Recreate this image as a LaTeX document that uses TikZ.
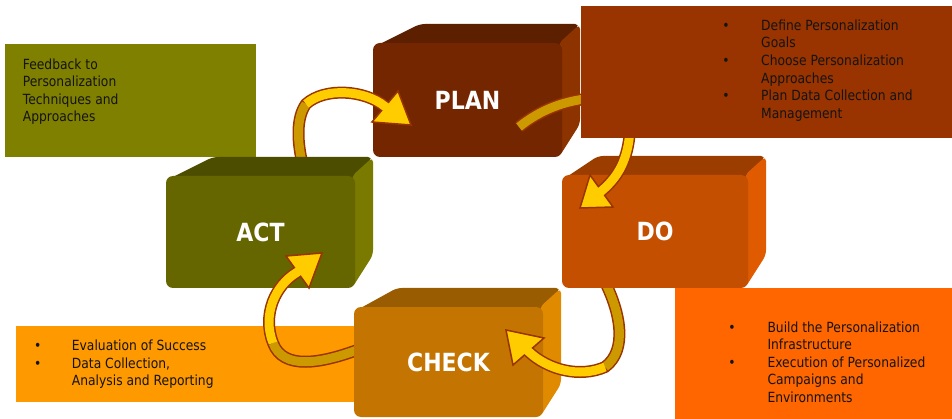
\documentclass[tikz,border=0pt]{standalone}
\usepackage{fontspec}
\setmainfont{DejaVu Sans}[FakeStretch=0.88]
\usetikzlibrary{calc}
\definecolor{planF}{HTML}{742600}
\definecolor{planT}{HTML}{5C1F00}
\definecolor{planS}{HTML}{8C3300}
\definecolor{doF}{HTML}{C44F00}
\definecolor{doT}{HTML}{9C3D00}
\definecolor{doS}{HTML}{E05A00}
\definecolor{actF}{HTML}{666600}
\definecolor{actT}{HTML}{4D4D00}
\definecolor{actS}{HTML}{7A7A00}
\definecolor{checkF}{HTML}{C47400}
\definecolor{checkT}{HTML}{9A5C00}
\definecolor{checkS}{HTML}{E08A00}
\definecolor{olivebox}{HTML}{808000}
\definecolor{brownbox}{HTML}{993300}
\definecolor{orangeR}{HTML}{FF6600}
\definecolor{orangeL}{HTML}{FF9900}
\definecolor{textdark}{HTML}{141414}
\definecolor{arrYellow}{HTML}{FFCC00}
\definecolor{arrDark}{HTML}{CC9900}
\definecolor{arrEdge}{HTML}{993300}
\tikzset{
  cubefront/.style={rounded corners=7pt, inner sep=0pt, text=white,
    font=\fontsize{25}{30}\selectfont\bfseries},
  tbox/.style={anchor=north west, inner sep=0pt},
  txt/.style={anchor=base west, inner sep=0pt, align=left, text=textdark,
    font=\fontsize{14}{17.5}\selectfont},
  bul/.style={anchor=base, inner sep=0pt, text=textdark,
    font=\fontsize{14}{17.5}\selectfont},
  ribedge/.style={draw=arrEdge, line width=12pt, line cap=butt},
  ribdark/.style={draw=arrDark, line width=9pt, line cap=butt},
  riblight/.style={draw=arrYellow, line width=9pt, line cap=butt},
  arrhead/.style={fill=arrYellow, draw=arrEdge, line width=1.5pt, line join=miter},
}
\newcommand{\cubebox}[8]{%
  \coordinate (#1-nw) at ({#2-#4/2},{#3-#5/2});
  \coordinate (#1-ne) at ({#2+#4/2},{#3-#5/2});
  \coordinate (#1-se) at ({#2+#4/2},{#3+#5/2});
  \fill[#7T, rounded corners=5pt] ($(#1-nw)+(3,3)$) -- ($(#1-nw)+(#6,-19)$)
     -- ($(#1-ne)+(18,-19)$) -- ($(#1-ne)+(0,3)$) -- cycle;
  \fill[#7S, rounded corners=5pt] ($(#1-ne)+(-3,0)$) -- ($(#1-ne)+(18,-19)$)
     -- ($(#1-se)+(18,-33)$) -- ($(#1-se)+(-3,0)$) -- cycle;
  \node[cubefront, fill=#7F, minimum width=#4pt, minimum height=#5pt] (#1) at (#2,#3) {#8};
}
\begin{document}
\begin{tikzpicture}[x=1pt, y=-1pt]
\useasboundingbox (0,0) rectangle (952,419);
\clip (0,0) rectangle (952,419);

% text boxes (lower layer); multi-line text nodes are anchored at the baseline of their last line
\node[tbox, fill=olivebox, minimum width=251pt, minimum height=113pt] (actbox) at (5,44) {};
\node[txt] (acttext) at (22.7,121.8) {Feedback to\\Personalization\\Techniques and\\Approaches};

\node[tbox, fill=orangeL, minimum width=384pt, minimum height=76pt] (checkbox) at (16,326) {};
\node[bul] (cb1) at (37.7,350.5) {•};
\node[txt] (ct1) at (71.7,350.5) {Evaluation of Success};
\node[bul] (cb2) at (37.7,368) {•};
\node[txt] (ct2) at (71.7,385.5) {Data Collection,\\Analysis and Reporting};

\node[tbox, fill=orangeR, minimum width=277pt, minimum height=131pt] (dobox) at (675,288) {};
\node[bul] (db1) at (732,332) {•};
\node[txt] (dt1) at (767.3,349.5) {Build the Personalization\\Infrastructure};
\node[bul] (db2) at (732,367) {•};
\node[txt] (dt2) at (767.3,402) {Execution of Personalized\\Campaigns and\\Environments};

% PLAN
\cubebox{plan}{467.5}{100}{189}{114}{47}{plan}{PLAN}

% arrow ACT -> PLAN
\draw[ribedge] (303,166) .. controls (297,142) and (296,118) .. (306,104)
   .. controls (325,87) and (365,90) .. (385,106.5);
\filldraw[arrhead] (411,125) -- (398,91) -- (372,122) -- cycle;
\draw[ribdark] (303,166) .. controls (297,142) and (296,118) .. (306,104);
\draw[riblight] (306,104) .. controls (325,87) and (365,90) .. (385,106.5) -- (388,108.5);

% ACT
\cubebox{act}{260.5}{232}{189}{112}{47}{act}{ACT}

% arrow CHECK -> ACT
\draw[ribedge] (360,349) .. controls (320,364) and (283,370) .. (273,343)
   .. controls (262,315) and (275,285) .. (297.5,272);
\filldraw[arrhead] (322,253) -- (286,256) -- (309,288) -- cycle;
\draw[ribdark] (360,349) .. controls (320,364) and (283,370) .. (273,343);
\draw[riblight] (273,343) .. controls (262,315) and (275,285) .. (297.5,272) -- (300,270);

% CHECK
\cubebox{check}{448.5}{362}{189}{110}{43}{check}{CHECK}

% arrow DO -> CHECK
\draw[ribedge] (605,282) .. controls (620,312) and (628,350) .. (605,367)
   .. controls (580,378) and (548,370) .. (528.5,351.5);
\filldraw[arrhead] (506,330) -- (544,338) -- (513,365) -- cycle;
\draw[ribdark] (605,282) .. controls (620,312) and (628,350) .. (605,367);
\draw[riblight] (605,367) .. controls (580,378) and (548,370) .. (528.5,351.5) -- (526,349.5);

% DO
\cubebox{do}{655}{231.5}{186}{113}{36}{do}{DO}

% arrow PLAN -> DO
\draw[ribedge] (519,127) .. controls (540,110) and (565,100) .. (595,98)
   .. controls (615,98) and (631,110) .. (630,130)
   .. controls (628,160) and (618,177) .. (601.5,191);
\filldraw[arrhead] (580,208) -- (590,175) -- (613,207) -- cycle;
\draw[ribdark] (519,127) .. controls (540,110) and (565,100) .. (595,98)
   .. controls (615,98) and (631,110) .. (630,130);
\draw[riblight] (630,130) .. controls (628,160) and (618,177) .. (601.5,191) -- (599,193);

% PLAN text box (top layer)
\node[tbox, fill=brownbox, minimum width=371pt, minimum height=132pt] (planbox) at (581,6) {};
\node[bul] (pb1) at (726,30.5) {•};
\node[txt] (pt1) at (761,48) {Define Personalization\\Goals};
\node[bul] (pb2) at (726,66) {•};
\node[txt] (pt2) at (761,83.5) {Choose Personalization\\Approaches};
\node[bul] (pb3) at (726,101) {•};
\node[txt] (pt3) at (761,118.5) {Plan Data Collection and\\Management};
\end{tikzpicture}
\end{document}
